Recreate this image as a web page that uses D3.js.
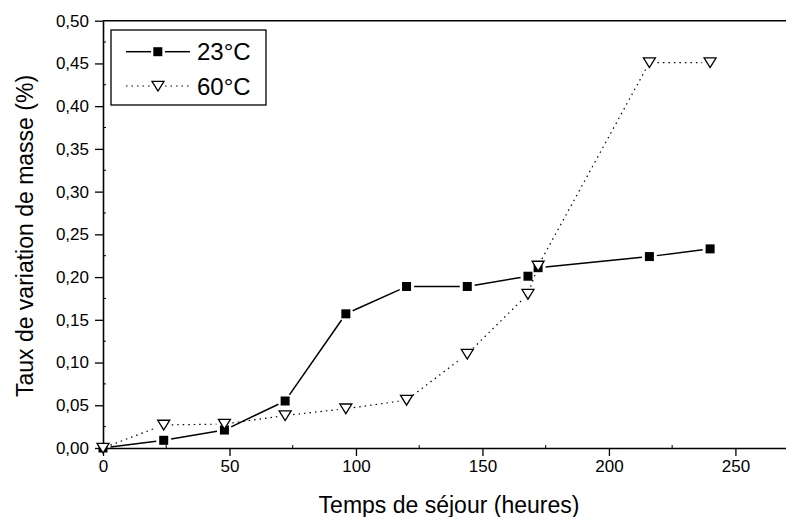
<!DOCTYPE html>
<html>
<head>
<meta charset="utf-8">
<script src="https://cdn.jsdelivr.net/npm/d3@7"></script>
<style>
  body { margin: 0; background: #fff; }
  svg { display: block; font-family: "Liberation Sans", Arial, sans-serif; }
</style>
</head>
<body>
<svg id="chart" width="786" height="517"></svg>
<script>
// data
var hours = [0, 24, 48, 72, 96, 120, 144, 168, 172, 216, 240];
var t23 = [0, 0.009, 0.021, 0.055, 0.157, 0.189, 0.189, 0.201, 0.211, 0.224, 0.233];
var hours60 = [0, 24, 48, 72, 96, 120, 144, 168, 172, 216, 240];
var t60 = [0, 0.027, 0.028, 0.038, 0.046, 0.056, 0.110, 0.180, 0.213, 0.451, 0.451];
var xTicks = [0, 50, 100, 150, 200, 250];
var yTicks = [0, 0.05, 0.10, 0.15, 0.20, 0.25, 0.30, 0.35, 0.40, 0.45, 0.50];
var seriesNames = ["23°C", "60°C"];

var svg = d3.select("#chart");
var x = d3.scaleLinear().domain([0, 270]).range([103, 786]);
var y = d3.scaleLinear().domain([0, 0.5]).range([448, 20.7]);
var fmt = function (d) { return d3.format(".2f")(d).replace(".", ","); };

// top frame line
svg.append("line")
  .attr("x1", 103).attr("x2", 786).attr("y1", y(0.5)).attr("y2", y(0.5))
  .attr("stroke", "#000").attr("stroke-width", 1.6);

// minor ticks (inward)
var xMinor = d3.range(25, 270, 50);
svg.append("g").selectAll("line").data(xMinor).join("line")
  .attr("x1", function (d) { return x(d); }).attr("x2", function (d) { return x(d); })
  .attr("y1", y(0)).attr("y2", y(0) - 3)
  .attr("stroke", "#000").attr("stroke-width", 1);
var yMinor = d3.range(0.025, 0.5, 0.05);
svg.append("g").selectAll("line").data(yMinor).join("line")
  .attr("x1", x(0)).attr("x2", x(0) + 3)
  .attr("y1", function (d) { return y(d); }).attr("y2", function (d) { return y(d); })
  .attr("stroke", "#000").attr("stroke-width", 1);

// axes
var gx = svg.append("g").attr("transform", "translate(0," + y(0) + ")")
  .call(d3.axisBottom(x).tickValues(xTicks).tickSize(8).tickPadding(4).tickSizeOuter(0));
var gy = svg.append("g").attr("transform", "translate(" + x(0) + ",0)")
  .call(d3.axisLeft(y).tickValues(yTicks).tickFormat(fmt).tickSize(8).tickPadding(6).tickSizeOuter(0));
[gx, gy].forEach(function (g) {
  g.select(".domain").attr("stroke-width", 1.6);
  g.selectAll(".tick line").attr("stroke-width", 1.3);
  g.selectAll("text").attr("font-size", 17).attr("fill", "#000")
    .attr("font-family", "Liberation Sans, Arial, sans-serif");
});

// axis titles
svg.append("text").attr("x", 449).attr("y", 513).attr("text-anchor", "middle")
  .attr("font-size", 23).text("Temps de séjour (heures)");
svg.append("text").attr("transform", "translate(33,236) rotate(-90)")
  .attr("text-anchor", "middle").attr("font-size", 23).text("Taux de variation de masse (%)");

// segments trimmed near markers, like the original plot
function segments(xs, ys, gap) {
  var out = [];
  for (var i = 0; i < xs.length - 1; i++) {
    var x1 = x(xs[i]), y1 = y(ys[i]), x2 = x(xs[i + 1]), y2 = y(ys[i + 1]);
    var dx = x2 - x1, dy = y2 - y1, len = Math.sqrt(dx * dx + dy * dy);
    if (len <= 2 * gap) continue;
    out.push([x1 + dx / len * gap, y1 + dy / len * gap, x2 - dx / len * gap, y2 - dy / len * gap]);
  }
  return out;
}

var tri = "M-6,-4.7 L6,-4.7 L0,5 Z";

// 23°C
svg.append("g").selectAll("line").data(segments(hours, t23, 7.5)).join("line")
  .attr("x1", function (d) { return d[0]; }).attr("y1", function (d) { return d[1]; })
  .attr("x2", function (d) { return d[2]; }).attr("y2", function (d) { return d[3]; })
  .attr("stroke", "#000").attr("stroke-width", 1.5);
svg.append("g").selectAll("rect").data(hours).join("rect")
  .attr("x", function (d) { return x(d) - 4.5; })
  .attr("y", function (d, i) { return y(t23[i]) - 4.5; })
  .attr("width", 9).attr("height", 9).attr("fill", "#000");

// 60°C
svg.append("g").selectAll("line").data(segments(hours60, t60, 8)).join("line")
  .attr("x1", function (d) { return d[0]; }).attr("y1", function (d) { return d[1]; })
  .attr("x2", function (d) { return d[2]; }).attr("y2", function (d) { return d[3]; })
  .attr("stroke", "#000").attr("stroke-width", 1.2).attr("stroke-dasharray", "1.5,4");
svg.append("g").selectAll("path").data(hours60).join("path")
  .attr("transform", function (d, i) { return "translate(" + x(d) + "," + y(t60[i]) + ")"; })
  .attr("d", tri).attr("fill", "#fff").attr("stroke", "#000").attr("stroke-width", 1.3);

// legend
var lg = svg.append("g");
lg.append("rect").attr("x", 111).attr("y", 30).attr("width", 155).attr("height", 75)
  .attr("fill", "#fff").attr("stroke", "#000").attr("stroke-width", 1.3);
var rows = [51.7, 86];
rows.forEach(function (ry, i) {
  var dash = i === 0 ? null : "1.5,4";
  var sw = i === 0 ? 1.5 : 1.2;
  lg.append("line").attr("x1", 126).attr("x2", 151).attr("y1", ry).attr("y2", ry)
    .attr("stroke", "#000").attr("stroke-width", sw).attr("stroke-dasharray", dash);
  lg.append("line").attr("x1", 165).attr("x2", 190).attr("y1", ry).attr("y2", ry)
    .attr("stroke", "#000").attr("stroke-width", sw).attr("stroke-dasharray", dash);
  if (i === 0) {
    lg.append("rect").attr("x", 153.3).attr("y", ry - 4.5).attr("width", 9).attr("height", 9).attr("fill", "#000");
  } else {
    lg.append("path").attr("transform", "translate(158," + ry + ")")
      .attr("d", tri).attr("fill", "#fff").attr("stroke", "#000").attr("stroke-width", 1.3);
  }
  lg.append("text").attr("x", 197).attr("y", ry + 8.5).attr("font-size", 24).text(seriesNames[i]);
});
</script>
</body>
</html>
